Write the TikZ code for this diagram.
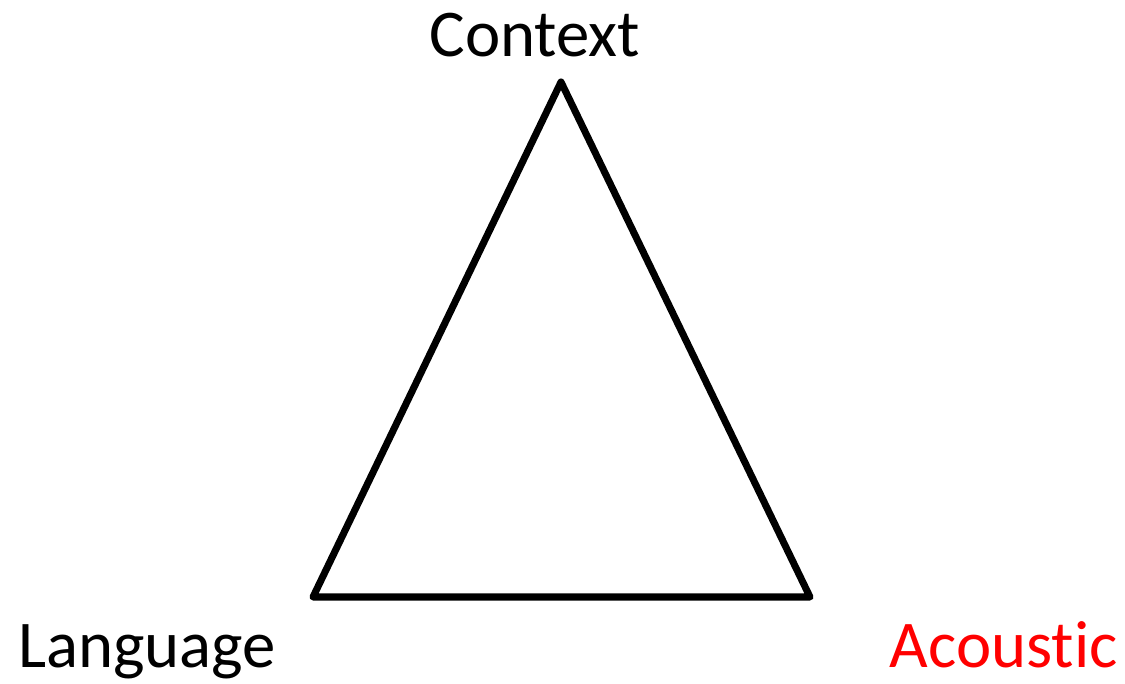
\documentclass[tikz,border=0pt]{standalone}
\usepackage{fontspec}
\setmainfont{Carlito}[RawFeature={-liga;-clig;-calt;-dlig}]
\usepackage{tikz}
\usetikzlibrary{positioning}
\definecolor{acousticRed}{HTML}{FF0000}

\begin{document}
\begin{tikzpicture}[
    label/.style={inner sep=0pt, font=\fontsize{38}{45}\selectfont},
    edge/.style={line width=4pt, line join=round, line cap=round},
]
\useasboundingbox (0,0) rectangle (22.5,13.66);
\coordinate (top) at (11.22,12.02);
\coordinate (left) at (6.26,1.72);
\coordinate (right) at (16.2,1.72);

\node[label, anchor=base] (context) at (10.7,12.52) {Context};
\node[label, anchor=base west] (language) at (0.36,0.32) {Language};
\node[label, anchor=base east, text=acousticRed] (acoustic) at (22.36,0.32) {Acoustic};

\draw[edge] (top) -- (right) -- (left) -- cycle;
\end{tikzpicture}
\end{document}
